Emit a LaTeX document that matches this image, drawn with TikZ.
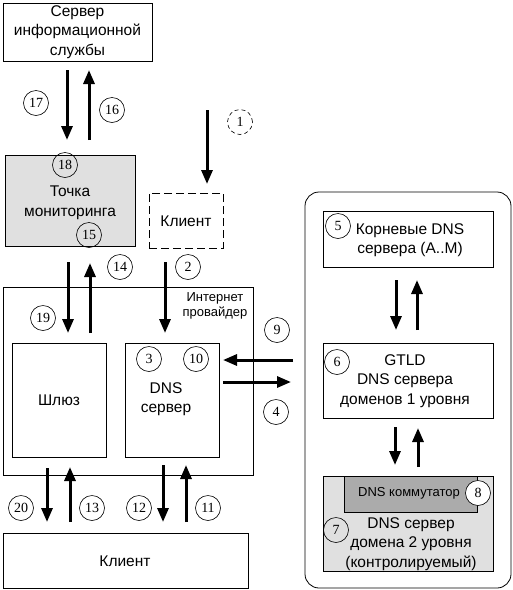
\documentclass[tikz,border=0pt]{standalone}
\usepackage{fontspec}
\setmainfont{Liberation Sans}
\newfontfamily\numfont{Liberation Serif}
\usetikzlibrary{arrows.meta}

\tikzset{
	box/.style={draw, line width=0.8pt, inner sep=0pt},
	txt/.style={align=center, inner sep=0pt, font=\fontsize{15.5}{19.5}\selectfont},
	small/.style={align=center, inner sep=0pt, font=\fontsize{13}{15.5}\selectfont},
	num/.style={circle, draw, line width=0.6pt, minimum size=25pt, inner sep=0pt, font=\numfont\fontsize{14}{14}\selectfont},
	flow/.style={->, line width=3pt}
}

\begin{document}
\begin{tikzpicture}[x=1pt, y=-1pt, >={Triangle[width=11pt,length=14pt]}]
	\useasboundingbox (0,0) rectangle (513,590);
	% 1. Блоки слева
	\node[box, minimum width=149pt, minimum height=58pt] (srv) at (77.5,32) {};
	\node[txt] (srvt) at (77.5,32) {Сервер\\информационной\\службы};
	\node[box, fill=black!12, minimum width=130pt, minimum height=91pt] (mon) at (70,200.5) {};
	\node[txt] (mont) at (70,203) {Точка\\мониторинга};
	\node[box, dash pattern=on 8pt off 4pt, minimum width=74pt, minimum height=55pt] (cli1) at (186,220.5) {};
	\node[txt] (cli1t) at (186,221) {Клиент};
	\node[box, minimum width=250pt, minimum height=188pt] (isp) at (128,381) {};
	\node[small] (ispt) at (215,306) {Интернет\\провайдер};
	\node[box, minimum width=94pt, minimum height=114pt] (gw) at (59,400) {};
	\node[txt] (gwt) at (59,400) {Шлюз};
	\node[box, minimum width=94pt, minimum height=114pt] (dns) at (172,400) {};
	\node[txt] (dnst) at (166,399) {DNS\\сервер};
	\node[box, minimum width=245pt, minimum height=55pt] (cli2) at (125.5,560.5) {};
	\node[txt] (cli2t) at (125,561) {Клиент};

	% 2. Блоки справа (DNS иерархия)
	\node[box, rounded corners=14pt, minimum width=206pt, minimum height=396pt] (net) at (408,390) {};
	\node[box, minimum width=170pt, minimum height=56pt] (root) at (408,239) {};
	\node[txt] (roott) at (410,240) {Корневые DNS\\сервера (A..M)};
	\node[box, minimum width=170pt, minimum height=75pt] (gtld) at (408,380.5) {};
	\node[txt] (gtldt) at (405,381) {GTLD\\DNS сервера\\доменов 1 уровня};
	\node[box, fill=black!12, minimum width=170pt, minimum height=95pt] (sld) at (408,523.5) {};
	\node[box, fill=black!33, minimum width=133pt, minimum height=36pt] (sw) at (410.5,494) {};
	\node[small] (swt) at (409,493) {DNS коммутатор};
	\node[txt] (sldt) at (411,544) {DNS сервер\\домена 2 уровня\\(контролируемый)};

	% 3. Концы стрелок
	\coordinate (a17s) at (67,70);   \coordinate (a17e) at (67,140);
	\coordinate (a16s) at (89,140);  \coordinate (a16e) at (89,70);
	\coordinate (a1s) at (207,110);  \coordinate (a1e) at (207,184);
	\coordinate (a19s) at (68,262);  \coordinate (a19e) at (68,333);
	\coordinate (a14s) at (90,333);  \coordinate (a14e) at (90,263);
	\coordinate (a2s) at (165,262);  \coordinate (a2e) at (165,333);
	\coordinate (a9s) at (293,360);  \coordinate (a9e) at (223,360);
	\coordinate (a4s) at (223,382);  \coordinate (a4e) at (291,382);
	\coordinate (a20s) at (47,468);  \coordinate (a20e) at (47,522);
	\coordinate (a13s) at (70,522);  \coordinate (a13e) at (70,467);
	\coordinate (a12s) at (163,465); \coordinate (a12e) at (163,522);
	\coordinate (a11s) at (186,522); \coordinate (a11e) at (186,465);
	\coordinate (r1s) at (396,280);  \coordinate (r1e) at (396,330);
	\coordinate (r2s) at (417,330);  \coordinate (r2e) at (417,280);
	\coordinate (g1s) at (395,427);  \coordinate (g1e) at (395,465);
	\coordinate (g2s) at (418,467);  \coordinate (g2e) at (418,428);

	% 4. Стрелки
	\foreach \s/\e in {a17s/a17e, a16s/a16e, a1s/a1e, a19s/a19e, a14s/a14e, a2s/a2e,
		a9s/a9e, a4s/a4e, a20s/a20e, a13s/a13e, a12s/a12e, a11s/a11e,
		r1s/r1e, r2s/r2e, g1s/g1e, g2s/g2e}
		\draw[flow] (\s) -- (\e);

	% 5. Номера шагов
	\node[num, dash pattern=on 4pt off 3pt] (n1) at (240,122) {1};
	\node[num] (n2) at (188,267) {2};
	\node[num] (n3) at (149,359) {3};
	\node[num] (n4) at (276,412) {4};
	\node[num, fill=white] (n5) at (338,226) {5};
	\node[num] (n6) at (337,362) {6};
	\node[num] (n7) at (336,530) {7};
	\node[num, fill=white] (n8) at (478,493) {8};
	\node[num] (n9) at (277,330) {9};
	\node[num] (n10) at (196,359) {10};
	\node[num] (n11) at (208,508) {11};
	\node[num] (n12) at (139,508) {12};
	\node[num] (n13) at (92,508) {13};
	\node[num] (n14) at (120,267) {14};
	\node[num] (n15) at (89,235) {15};
	\node[num] (n16) at (112,110) {16};
	\node[num] (n17) at (36,103) {17};
	\node[num] (n18) at (65,165) {18};
	\node[num] (n19) at (43,318) {19};
	\node[num] (n20) at (21,508) {20};
\end{tikzpicture}
\end{document}
